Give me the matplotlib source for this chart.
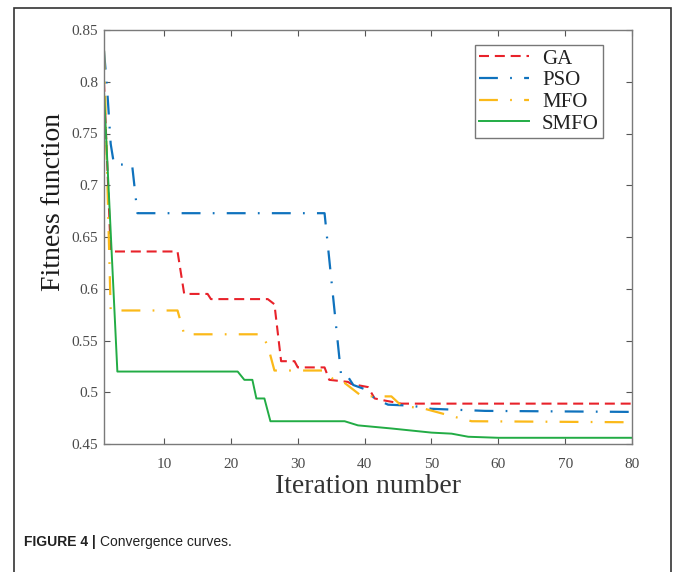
import matplotlib
matplotlib.use("Agg")
import matplotlib.pyplot as plt
from matplotlib.patches import Rectangle

# ---- data ----
ga_x = [1, 2, 12, 13, 16.5, 17, 25.5, 26.5, 27.5, 29.5, 30, 34, 34.7, 37.5, 38, 40.5, 41.5, 43, 45.5, 80]
ga_y = [0.80, 0.636, 0.636, 0.595, 0.595, 0.590, 0.590, 0.585, 0.530, 0.530, 0.524, 0.524,
        0.512, 0.510, 0.508, 0.505, 0.494, 0.492, 0.489, 0.489]

pso_x = [1, 1.5, 2, 2.5, 5.2, 6, 34, 36.5, 37.5, 38.3, 40, 41.5, 43.5, 47, 50, 58, 80]
pso_y = [0.83, 0.79, 0.74, 0.72, 0.72, 0.673, 0.673, 0.515, 0.515, 0.507, 0.503, 0.494,
         0.488, 0.487, 0.484, 0.482, 0.481]

mfo_x = [1, 2, 12, 13, 24.6, 25.5, 26.5, 33.7, 35.8, 37, 39.6, 44, 45.5, 49, 53, 56, 80]
mfo_y = [0.83, 0.579, 0.579, 0.556, 0.556, 0.545, 0.521, 0.521, 0.510, 0.509, 0.496, 0.496,
         0.487, 0.484, 0.477, 0.472, 0.471]

smfo_x = [1, 3, 21, 22, 23.2, 23.8, 25, 25.9, 37, 39, 44, 50, 53, 55.5, 60, 80]
smfo_y = [0.79, 0.520, 0.520, 0.512, 0.512, 0.494, 0.494, 0.472, 0.472, 0.468, 0.465,
          0.461, 0.460, 0.457, 0.456, 0.456]

labels = ["GA", "PSO", "MFO", "SMFO"]
x_ticks = [10, 20, 30, 40, 50, 60, 70, 80]
y_ticks = [0.45, 0.5, 0.55, 0.6, 0.65, 0.7, 0.75, 0.8, 0.85]
y_tick_labels = ["0.45", "0.5", "0.55", "0.6", "0.65", "0.7", "0.75", "0.8", "0.85"]

# ---- figure ----
W, H = 673, 572
fig = plt.figure(figsize=(W / 100, H / 100), dpi=100)
serif = ["Liberation Serif", "DejaVu Serif"]

ax = fig.add_axes([104 / W, 1 - 444 / H, (632 - 104) / W, (444 - 30) / H])

ax.plot(ga_x, ga_y, color="#e8222a", lw=1.5, dashes=(4.8, 2.8), label=labels[0])
ax.plot(pso_x, pso_y, color="#0f72bd", lw=1.6, dashes=(8.5, 5.5, 0.8, 5.5), label=labels[1])
ax.plot(mfo_x, mfo_y, color="#fbb919", lw=1.6, dashes=(8.5, 5.5, 0.8, 5.5), label=labels[2])
ax.plot(smfo_x, smfo_y, color="#22ac45", lw=1.4, label=labels[3])

ax.set_xlim(1, 80)
ax.set_ylim(0.45, 0.85)
ax.set_xticks(x_ticks)
ax.set_yticks(y_ticks)
ax.set_yticklabels(y_tick_labels)

axis_col = "#7a7a7a"
for s in ax.spines.values():
    s.set_color(axis_col)
    s.set_linewidth(1.0)
ax.tick_params(direction="in", length=4, width=0.8, color="#555555",
               top=True, right=True, labelsize=11, labelcolor="#4a4a4a")
ax.tick_params(axis="x", pad=10)
ax.tick_params(axis="y", pad=4)
for lab in ax.get_xticklabels() + ax.get_yticklabels():
    lab.set_family(serif)

ax.set_xlabel("Iteration number", fontsize=20, family=serif, color="#333333")
ax.xaxis.set_label_coords(0.5, -0.073)
ax.xaxis.label.set_va("top")
ax.set_ylabel("Fitness function", fontsize=20, family=serif, color="#1a1a1a")
ax.yaxis.set_label_coords(-0.072, 0.585)

leg = ax.legend(loc="upper right", bbox_to_anchor=(603 / W, 1 - 45 / H),
                bbox_transform=fig.transFigure, prop={"family": serif, "size": 15},
                frameon=True, fancybox=False, handlelength=2.4, handletextpad=0.6,
                borderpad=0.2, labelspacing=0.1, borderaxespad=0)
leg.get_frame().set_edgecolor("#555555")
leg.get_frame().set_linewidth(1.0)
for t in leg.get_texts():
    t.set_color("#222222")

# outer frame
fig.patches.append(Rectangle((14 / W, -0.05), (671 - 14) / W, 1.05 - 8 / H,
                             transform=fig.transFigure, fill=False,
                             edgecolor="#333333", linewidth=1.2))

# caption
cap_font = ["Liberation Sans", "DejaVu Sans"]
t1 = fig.text(24 / W, 1 - 542 / H, "FIGURE 4 | ", fontsize=10, fontweight="bold",
              family=cap_font, color="#222222", va="center")
fig.canvas.draw()
bb = t1.get_window_extent()
fig.text(bb.x1 / W, 1 - 542 / H, "Convergence curves.", fontsize=10,
         family=cap_font, color="#222222", va="center")

fig.savefig("out.png", dpi=100)
